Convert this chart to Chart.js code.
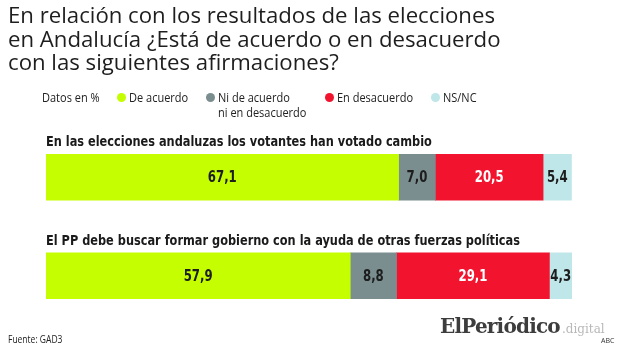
<!DOCTYPE html>
<html lang="es">
<head>
<meta charset="utf-8">
<script src="https://cdn.jsdelivr.net/npm/chart.js@4.4.1/dist/chart.umd.min.js"></script>
<style>
  html, body { margin: 0; padding: 0; background: #fff; }
  #wrap { position: relative; width: 620px; height: 349px; overflow: hidden; }
  #chart { position: absolute; left: 0; top: 0; }
  .title {
    position: absolute; left: 8px; top: 3px; margin: 0;
    font-family: "Open Sans", sans-serif; font-weight: 400;
    font-size: 22.2px; line-height: 23.6px; color: #1e1e1e; white-space: nowrap;
  }
  .legend {
    position: absolute; top: 89px; left: 0; height: 40px;
    font-family: "Open Sans", sans-serif; font-size: 12.5px; color: #222;
  }
  .legend span {
    position: absolute; white-space: nowrap; line-height: 15px;
    transform: scaleX(0.88); transform-origin: 0 0;
  }
  .legend i {
    position: absolute; width: 9px; height: 9px; border-radius: 50%; top: 4px;
  }
  .source {
    position: absolute; left: 8px; top: 332px;
    font-family: "Open Sans", sans-serif;
    font-size: 10px; color: #222; transform: scaleX(0.85); transform-origin: 0 0;
  }
  .logo {
    position: absolute; left: 440px; top: 314px;
    font-family: "DejaVu Serif", serif; font-weight: 700; font-size: 20px;
    color: #3d3d3d; letter-spacing: -0.8px; white-space: nowrap;
  }
  .digital {
    position: absolute; left: 562px; top: 322px;
    font-family: "DejaVu Serif", serif; font-size: 12px; color: #b8b8b8; white-space: nowrap;
  }
  .abc {
    position: absolute; left: 601px; top: 336px;
    font-family: "Open Sans", sans-serif;
    font-size: 7px; color: #333;
  }
</style>
</head>
<body>
<div id="wrap">
  <canvas id="chart" width="620" height="349"></canvas>
  <p class="title">En relación con los resultados de las elecciones<br>en Andalucía ¿Está de acuerdo o en desacuerdo<br>con las siguientes afirmaciones?</p>
  <div class="legend" id="legend"></div>
  <div class="source">Fuente: GAD3</div>
  <div class="logo">ElPeriódico</div>
  <div class="digital">.digital</div>
  <div class="abc">ABC</div>
</div>
<script>
// Statements asked in the survey (one stacked bar each)
const categories = [
  "En las elecciones andaluzas los votantes han votado cambio",
  "El PP debe buscar formar gobierno con la ayuda de otras fuerzas políticas"
];

// Answer groups, in stacking order
const seriesNames = ["De acuerdo", "Ni de acuerdo\nni en desacuerdo", "En desacuerdo", "NS/NC"];

// Percentages per answer group, one value per statement
const deAcuerdo    = [67.1, 57.9];
const niNi         = [7.0, 8.8];
const enDesacuerdo = [20.5, 29.1];
const nsnc         = [5.4, 4.3];

const seriesColors = ["#c4fe00", "#7a8d8f", "#f2142e", "#bfe6e9"];
const labelColors  = ["#1d1d1d", "#1d1d1d", "#ffffff", "#1d1d1d"];
const seriesValues = [deAcuerdo, niNi, enDesacuerdo, nsnc];

// HTML legend
const legendEl = document.getElementById("legend");
const legendItems = [
  { text: "Datos en %", x: 42 },
  { text: seriesNames[0], x: 129, dot: 0 },
  { text: seriesNames[1], x: 218, dot: 1 },
  { text: seriesNames[2], x: 337, dot: 2 },
  { text: seriesNames[3], x: 443, dot: 3 }
];
legendItems.forEach(it => {
  const s = document.createElement("span");
  s.style.left = it.x + "px";
  s.style.top = "1px";
  s.innerHTML = it.text.replace("\n", "<br>");
  legendEl.appendChild(s);
  if (it.dot !== undefined) {
    const d = document.createElement("i");
    d.style.left = (it.x - 12) + "px";
    d.style.background = seriesColors[it.dot];
    legendEl.appendChild(d);
  }
});

const fmt = v => v.toFixed(1).replace(".", ",");
const NARROW = 0.87;   // horizontal squeeze for the condensed bold lettering

function narrowText(ctx, text, x, y) {
  ctx.save();
  ctx.translate(x, y);
  ctx.scale(NARROW, 1);
  ctx.fillText(text, 0, 0);
  ctx.restore();
}

// Statement titles above each bar and value labels inside every segment
const barText = {
  id: "barText",
  afterDatasetsDraw(chart) {
    const ctx = chart.ctx;
    ctx.save();
    const first = chart.getDatasetMeta(0);
    ctx.font = 'bold 14.5px "DejaVu Sans Condensed", "DejaVu Sans", sans-serif';
    ctx.fillStyle = "#1a1a1a";
    ctx.textAlign = "left";
    ctx.textBaseline = "alphabetic";
    first.data.forEach((bar, i) => {
      const top = bar.y - bar.height / 2;
      narrowText(ctx, categories[i], chart.chartArea.left, top - 8);
    });
    ctx.font = 'bold 15px "DejaVu Sans Condensed", "DejaVu Sans", sans-serif';
    ctx.textAlign = "center";
    ctx.textBaseline = "middle";
    chart.data.datasets.forEach((ds, di) => {
      const meta = chart.getDatasetMeta(di);
      meta.data.forEach((bar, i) => {
        const cx = (bar.x + bar.base) / 2;
        ctx.fillStyle = labelColors[di];
        narrowText(ctx, fmt(ds.data[i]), cx, bar.y + 1);
      });
    });
    ctx.restore();
  }
};

new Chart(document.getElementById("chart"), {
  type: "bar",
  data: {
    labels: categories,
    datasets: seriesValues.map((vals, i) => ({
      label: seriesNames[i],
      data: vals,
      backgroundColor: seriesColors[i],
      borderWidth: 0,
      barThickness: 46
    }))
  },
  options: {
    indexAxis: "y",
    responsive: false,
    animation: false,
    layout: { padding: { left: 46, right: 48, top: 128, bottom: 24 } },
    scales: {
      x: { stacked: true, min: 0, max: 100.1, display: false },
      y: { stacked: true, display: false }
    },
    plugins: {
      legend: { display: false },
      tooltip: { enabled: false },
      title: { display: false }
    }
  },
  plugins: [barText]
});
</script>
</body>
</html>
